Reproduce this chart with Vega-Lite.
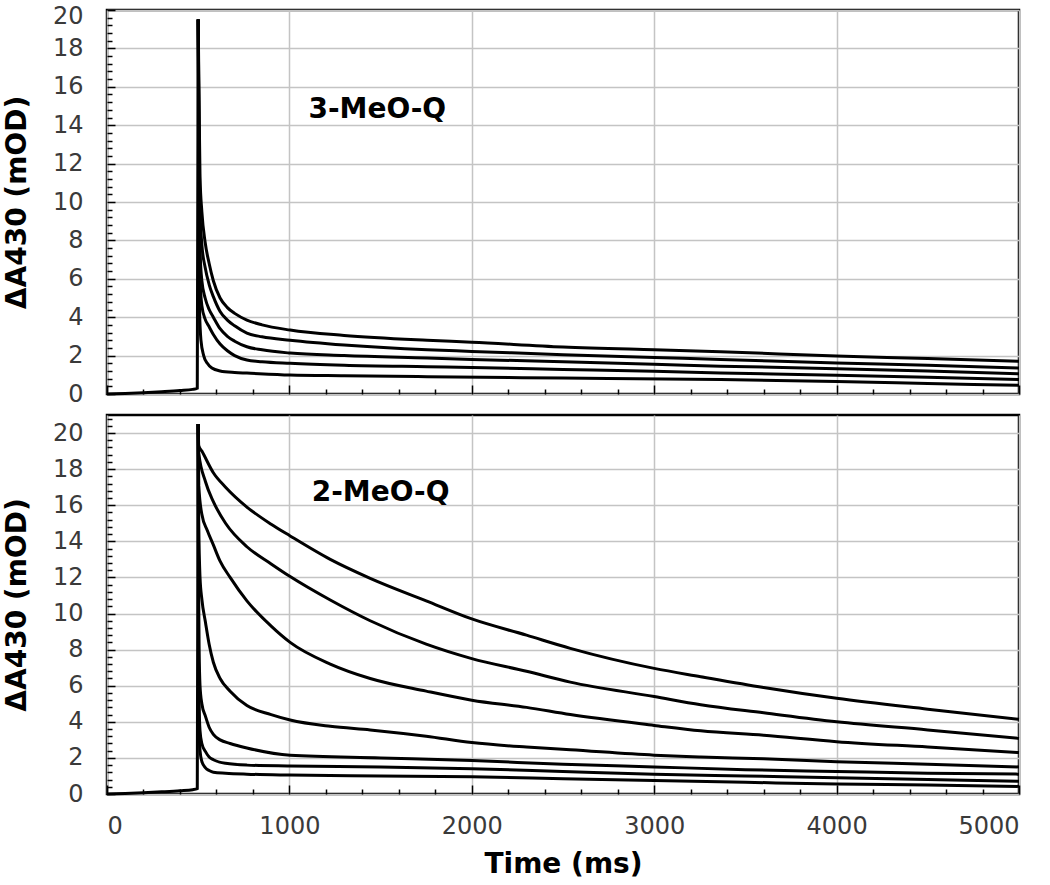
{
  "$schema": "https://vega.github.io/schema/vega-lite/v6.json",
  "background": "white",
  "padding": {"left": 2, "top": 2, "right": 0, "bottom": 0},
  "config": {
    "view": {"stroke": "black", "strokeWidth": 2.5},
    "font": "DejaVu Sans",
    "axis": {
      "labelFont": "DejaVu Sans", "labelFontSize": 24, "labelColor": "#3a3a3a",
      "titleFont": "DejaVu Sans", "titleFontSize": 28, "titleFontWeight": "bold", "titleColor": "black",
      "gridColor": "#c4c4c4", "gridWidth": 1.5, "gridOpacity": 1, "domain": false
    }
  },
  "datasets": {
    "top": [
      {"c":"pre","t":0,"v":0},{"c":"pre","t":100,"v":0.03},{"c":"pre","t":200,"v":0.07},{"c":"pre","t":300,"v":0.12},{"c":"pre","t":400,"v":0.18},{"c":"pre","t":470,"v":0.24},{"c":"pre","t":495,"v":0.3},{"c":"pre","t":500,"v":19.5},
      {"c":"A","t":500,"v":19.5},{"c":"A","t":505,"v":15},{"c":"A","t":510,"v":11.3},{"c":"A","t":520,"v":9.5},{"c":"A","t":538,"v":7.9},{"c":"A","t":560,"v":6.8},{"c":"A","t":583,"v":5.9},{"c":"A","t":620,"v":5.0},{"c":"A","t":660,"v":4.5},{"c":"A","t":700,"v":4.2},{"c":"A","t":767,"v":3.85},{"c":"A","t":850,"v":3.6},{"c":"A","t":1004,"v":3.33},{"c":"A","t":1300,"v":3.05},{"c":"A","t":1755,"v":2.8},{"c":"A","t":2000,"v":2.7},{"c":"A","t":2500,"v":2.45},{"c":"A","t":3000,"v":2.3},{"c":"A","t":3364,"v":2.2},{"c":"A","t":4000,"v":1.98},{"c":"A","t":4500,"v":1.85},{"c":"A","t":5000,"v":1.7},
      {"c":"B","t":500,"v":19.5},{"c":"B","t":505,"v":13},{"c":"B","t":510,"v":9.5},{"c":"B","t":520,"v":7.8},{"c":"B","t":538,"v":6.6},{"c":"B","t":560,"v":5.7},{"c":"B","t":583,"v":5.07},{"c":"B","t":620,"v":4.3},{"c":"B","t":660,"v":3.85},{"c":"B","t":700,"v":3.55},{"c":"B","t":767,"v":3.17},{"c":"B","t":850,"v":2.98},{"c":"B","t":1004,"v":2.8},{"c":"B","t":1300,"v":2.55},{"c":"B","t":1755,"v":2.3},{"c":"B","t":2000,"v":2.22},{"c":"B","t":2500,"v":2.05},{"c":"B","t":3000,"v":1.9},{"c":"B","t":3364,"v":1.8},{"c":"B","t":4000,"v":1.62},{"c":"B","t":4500,"v":1.5},{"c":"B","t":5000,"v":1.35},
      {"c":"C","t":500,"v":19.5},{"c":"C","t":505,"v":11},{"c":"C","t":510,"v":7.5},{"c":"C","t":520,"v":5.9},{"c":"C","t":538,"v":5.0},{"c":"C","t":560,"v":4.4},{"c":"C","t":583,"v":4.0},{"c":"C","t":620,"v":3.4},{"c":"C","t":660,"v":3.0},{"c":"C","t":700,"v":2.75},{"c":"C","t":767,"v":2.46},{"c":"C","t":850,"v":2.3},{"c":"C","t":1004,"v":2.13},{"c":"C","t":1300,"v":2.0},{"c":"C","t":1755,"v":1.87},{"c":"C","t":2000,"v":1.8},{"c":"C","t":2500,"v":1.68},{"c":"C","t":3000,"v":1.55},{"c":"C","t":3364,"v":1.45},{"c":"C","t":4000,"v":1.32},{"c":"C","t":4500,"v":1.2},{"c":"C","t":5000,"v":1.05},
      {"c":"D","t":500,"v":19.5},{"c":"D","t":505,"v":10},{"c":"D","t":510,"v":6},{"c":"D","t":520,"v":4.6},{"c":"D","t":538,"v":3.9},{"c":"D","t":560,"v":3.5},{"c":"D","t":583,"v":3.1},{"c":"D","t":620,"v":2.6},{"c":"D","t":660,"v":2.25},{"c":"D","t":700,"v":2.0},{"c":"D","t":767,"v":1.77},{"c":"D","t":850,"v":1.68},{"c":"D","t":1004,"v":1.6},{"c":"D","t":1300,"v":1.5},{"c":"D","t":1755,"v":1.42},{"c":"D","t":2000,"v":1.38},{"c":"D","t":2500,"v":1.28},{"c":"D","t":3000,"v":1.18},{"c":"D","t":3364,"v":1.1},{"c":"D","t":4000,"v":0.98},{"c":"D","t":4500,"v":0.87},{"c":"D","t":5000,"v":0.75},
      {"c":"E","t":500,"v":19.5},{"c":"E","t":503,"v":8},{"c":"E","t":507,"v":4.5},{"c":"E","t":515,"v":2.8},{"c":"E","t":530,"v":2.0},{"c":"E","t":550,"v":1.6},{"c":"E","t":575,"v":1.35},{"c":"E","t":620,"v":1.2},{"c":"E","t":700,"v":1.12},{"c":"E","t":767,"v":1.09},{"c":"E","t":1004,"v":0.99},{"c":"E","t":1300,"v":0.95},{"c":"E","t":1755,"v":0.9},{"c":"E","t":2500,"v":0.83},{"c":"E","t":3364,"v":0.75},{"c":"E","t":4000,"v":0.65},{"c":"E","t":4500,"v":0.55},{"c":"E","t":5000,"v":0.45}
    ],
    "bottom": [
      {"c":"pre","t":0,"v":0},{"c":"pre","t":100,"v":0.03},{"c":"pre","t":200,"v":0.07},{"c":"pre","t":300,"v":0.12},{"c":"pre","t":400,"v":0.18},{"c":"pre","t":470,"v":0.24},{"c":"pre","t":495,"v":0.3},{"c":"pre","t":500,"v":20.5},
      {"c":"c1","t":500,"v":20.5},{"c":"c1","t":503,"v":19.3},{"c":"c1","t":520,"v":19.0},{"c":"c1","t":583,"v":17.8},{"c":"c1","t":650,"v":17.0},{"c":"c1","t":767,"v":15.9},{"c":"c1","t":900,"v":14.95},{"c":"c1","t":1004,"v":14.3},{"c":"c1","t":1224,"v":13.0},{"c":"c1","t":1443,"v":11.95},{"c":"c1","t":1750,"v":10.7},{"c":"c1","t":2000,"v":9.7},{"c":"c1","t":2300,"v":8.8},{"c":"c1","t":2540,"v":8.07},{"c":"c1","t":3000,"v":6.96},{"c":"c1","t":3255,"v":6.5},{"c":"c1","t":3600,"v":5.9},{"c":"c1","t":4000,"v":5.3},{"c":"c1","t":4500,"v":4.7},{"c":"c1","t":5000,"v":4.14},
      {"c":"c2","t":500,"v":20.5},{"c":"c2","t":503,"v":18.9},{"c":"c2","t":540,"v":17.3},{"c":"c2","t":583,"v":16.2},{"c":"c2","t":650,"v":15.0},{"c":"c2","t":767,"v":13.7},{"c":"c2","t":900,"v":12.75},{"c":"c2","t":1004,"v":12.05},{"c":"c2","t":1224,"v":10.75},{"c":"c2","t":1443,"v":9.6},{"c":"c2","t":1750,"v":8.3},{"c":"c2","t":2000,"v":7.5},{"c":"c2","t":2300,"v":6.8},{"c":"c2","t":2540,"v":6.2},{"c":"c2","t":3000,"v":5.4},{"c":"c2","t":3255,"v":4.95},{"c":"c2","t":3600,"v":4.5},{"c":"c2","t":4000,"v":4.0},{"c":"c2","t":4500,"v":3.55},{"c":"c2","t":5000,"v":3.08},
      {"c":"c3","t":500,"v":20.5},{"c":"c3","t":503,"v":17.1},{"c":"c3","t":520,"v":15.5},{"c":"c3","t":550,"v":14.6},{"c":"c3","t":583,"v":13.8},{"c":"c3","t":620,"v":12.9},{"c":"c3","t":675,"v":12.0},{"c":"c3","t":767,"v":10.7},{"c":"c3","t":900,"v":9.3},{"c":"c3","t":1004,"v":8.4},{"c":"c3","t":1224,"v":7.2},{"c":"c3","t":1443,"v":6.4},{"c":"c3","t":1750,"v":5.7},{"c":"c3","t":2000,"v":5.2},{"c":"c3","t":2300,"v":4.8},{"c":"c3","t":2540,"v":4.4},{"c":"c3","t":3000,"v":3.8},{"c":"c3","t":3255,"v":3.5},{"c":"c3","t":3600,"v":3.25},{"c":"c3","t":4000,"v":2.9},{"c":"c3","t":4500,"v":2.6},{"c":"c3","t":5000,"v":2.3},
      {"c":"c4","t":500,"v":20.5},{"c":"c4","t":503,"v":15},{"c":"c4","t":510,"v":12},{"c":"c4","t":520,"v":10.8},{"c":"c4","t":540,"v":9.5},{"c":"c4","t":560,"v":8.3},{"c":"c4","t":583,"v":7.3},{"c":"c4","t":620,"v":6.4},{"c":"c4","t":675,"v":5.7},{"c":"c4","t":767,"v":4.9},{"c":"c4","t":900,"v":4.4},{"c":"c4","t":1004,"v":4.1},{"c":"c4","t":1224,"v":3.75},{"c":"c4","t":1443,"v":3.55},{"c":"c4","t":1750,"v":3.2},{"c":"c4","t":2000,"v":2.85},{"c":"c4","t":2300,"v":2.6},{"c":"c4","t":2540,"v":2.45},{"c":"c4","t":3000,"v":2.15},{"c":"c4","t":3255,"v":2.05},{"c":"c4","t":3600,"v":1.95},{"c":"c4","t":4000,"v":1.79},{"c":"c4","t":4500,"v":1.65},{"c":"c4","t":5000,"v":1.5},
      {"c":"c5","t":500,"v":20.5},{"c":"c5","t":502,"v":12},{"c":"c5","t":505,"v":8},{"c":"c5","t":510,"v":6},{"c":"c5","t":520,"v":5},{"c":"c5","t":540,"v":4.3},{"c":"c5","t":560,"v":3.7},{"c":"c5","t":583,"v":3.3},{"c":"c5","t":620,"v":3.0},{"c":"c5","t":675,"v":2.8},{"c":"c5","t":767,"v":2.55},{"c":"c5","t":1004,"v":2.15},{"c":"c5","t":1500,"v":2.0},{"c":"c5","t":2000,"v":1.85},{"c":"c5","t":2500,"v":1.65},{"c":"c5","t":3000,"v":1.5},{"c":"c5","t":3500,"v":1.35},{"c":"c5","t":4000,"v":1.25},{"c":"c5","t":4500,"v":1.15},{"c":"c5","t":5000,"v":1.1},
      {"c":"c6","t":500,"v":20.5},{"c":"c6","t":502,"v":8},{"c":"c6","t":505,"v":5},{"c":"c6","t":510,"v":3.5},{"c":"c6","t":520,"v":2.8},{"c":"c6","t":540,"v":2.35},{"c":"c6","t":560,"v":2.05},{"c":"c6","t":583,"v":1.9},{"c":"c6","t":650,"v":1.7},{"c":"c6","t":767,"v":1.6},{"c":"c6","t":1000,"v":1.55},{"c":"c6","t":1500,"v":1.5},{"c":"c6","t":2000,"v":1.4},{"c":"c6","t":2500,"v":1.25},{"c":"c6","t":3000,"v":1.1},{"c":"c6","t":3500,"v":1.0},{"c":"c6","t":4000,"v":0.9},{"c":"c6","t":4500,"v":0.8},{"c":"c6","t":5000,"v":0.7},
      {"c":"c7","t":500,"v":20.5},{"c":"c7","t":502,"v":6},{"c":"c7","t":505,"v":3.5},{"c":"c7","t":510,"v":2.4},{"c":"c7","t":520,"v":1.8},{"c":"c7","t":540,"v":1.45},{"c":"c7","t":560,"v":1.3},{"c":"c7","t":583,"v":1.2},{"c":"c7","t":650,"v":1.15},{"c":"c7","t":767,"v":1.1},{"c":"c7","t":1000,"v":1.05},{"c":"c7","t":1500,"v":1.0},{"c":"c7","t":2000,"v":0.95},{"c":"c7","t":2500,"v":0.85},{"c":"c7","t":3000,"v":0.75},{"c":"c7","t":3500,"v":0.65},{"c":"c7","t":4000,"v":0.55},{"c":"c7","t":4500,"v":0.5},{"c":"c7","t":5000,"v":0.42}
    ]
  },
  "vconcat": [
    {
      "width": 912, "height": 384,
      "data": {"name": "top"},
      "resolve": {"axis": {"x": "independent", "y": "independent"}},
      "layer": [
        {
          "mark": {"type": "line", "color": "black", "strokeWidth": 3, "interpolate": "monotone"},
          "encoding": {
            "x": {"field": "t", "type": "quantitative", "scale": {"domain": [0, 5000], "nice": false},
                  "axis": {"values": [0,1000,2000,3000,4000,5000], "labels": false, "ticks": false, "title": null, "grid": true, "orient": "bottom"}},
            "y": {"field": "v", "type": "quantitative", "scale": {"domain": [0, 20], "nice": false},
                  "axis": {"values": [0,2,4,6,8,10,12,14,16,18,20], "ticks": false, "labelPadding": 24, "title": "ΔA430 (mOD)", "titlePadding": 21, "grid": true, "orient": "left",
                           "labelBaseline": {"condition": {"test": "datum.value === 20", "value": "top"}, "value": "middle"},
                           "labelOffset": {"condition": {"test": "datum.value === 20", "value": -6}, "value": 0}}},
            "detail": {"field": "c"}
          }
        },
        {
          "mark": {"type": "line", "opacity": 0},
          "encoding": {
            "x": {"field": "t", "type": "quantitative",
                  "axis": {"orient": "bottom", "values": [0,200,400,600,800,1000,1200,1400,1600,1800,2000,2200,2400,2600,2800,3000,3200,3400,3600,3800,4000,4200,4400,4600,4800,5000],
                           "labels": false, "grid": false, "title": null, "tickColor": "black", "tickWidth": 1.5,
                           "tickSize": {"condition": {"test": "datum.value % 1000 === 0", "value": -9}, "value": -5}}},
            "y": {"field": "v", "type": "quantitative",
                  "axis": {"orient": "left", "values": [0,0.4,0.8,1.2,1.6,2,2.4,2.8,3.2,3.6,4,4.4,4.8,5.2,5.6,6,6.4,6.8,7.2,7.6,8,8.4,8.8,9.2,9.6,10,10.4,10.8,11.2,11.6,12,12.4,12.8,13.2,13.6,14,14.4,14.8,15.2,15.6,16,16.4,16.8,17.2,17.6,18,18.4,18.8,19.2,19.6,20],
                           "labels": false, "grid": false, "title": null, "tickColor": "black", "tickWidth": 1.5,
                           "tickSize": {"condition": {"test": "datum.value % 2 === 0", "value": -8}, "value": -5}}},
            "detail": {"field": "c"}
          }
        },
        {
          "data": {"values": [{"label": "3-MeO-Q", "t": 1482, "v": 14.8}]},
          "mark": {"type": "text", "fontSize": 28, "fontWeight": "bold", "font": "DejaVu Sans", "color": "black", "align": "center", "baseline": "middle"},
          "encoding": {
            "x": {"field": "t", "type": "quantitative", "axis": null},
            "y": {"field": "v", "type": "quantitative", "axis": null},
            "text": {"field": "label"}
          }
        }
      ]
    },
    {
      "width": 912, "height": 379,
      "data": {"name": "bottom"},
      "resolve": {"axis": {"x": "independent", "y": "independent"}},
      "layer": [
        {
          "mark": {"type": "line", "color": "black", "strokeWidth": 3, "interpolate": "monotone"},
          "encoding": {
            "x": {"field": "t", "type": "quantitative", "scale": {"domain": [0, 5000], "nice": false},
                  "axis": {"values": [0,1000,2000,3000,4000,5000], "format": "d", "ticks": false, "labelPadding": 20, "title": "Time (ms)", "titlePadding": 12, "grid": true, "orient": "bottom"}},
            "y": {"field": "v", "type": "quantitative", "scale": {"domain": [0, 21], "nice": false},
                  "axis": {"values": [0,2,4,6,8,10,12,14,16,18,20], "ticks": false, "labelPadding": 24, "title": "ΔA430 (mOD)", "titlePadding": 21, "grid": true, "orient": "left"}},
            "detail": {"field": "c"}
          }
        },
        {
          "mark": {"type": "line", "opacity": 0},
          "encoding": {
            "x": {"field": "t", "type": "quantitative",
                  "axis": {"orient": "bottom", "values": [0,200,400,600,800,1000,1200,1400,1600,1800,2000,2200,2400,2600,2800,3000,3200,3400,3600,3800,4000,4200,4400,4600,4800,5000],
                           "labels": false, "grid": false, "title": null, "tickColor": "black", "tickWidth": 1.5,
                           "tickSize": {"condition": {"test": "datum.value % 1000 === 0", "value": -9}, "value": -5}}},
            "y": {"field": "v", "type": "quantitative",
                  "axis": {"orient": "left", "values": [0,0.4,0.8,1.2,1.6,2,2.4,2.8,3.2,3.6,4,4.4,4.8,5.2,5.6,6,6.4,6.8,7.2,7.6,8,8.4,8.8,9.2,9.6,10,10.4,10.8,11.2,11.6,12,12.4,12.8,13.2,13.6,14,14.4,14.8,15.2,15.6,16,16.4,16.8,17.2,17.6,18,18.4,18.8,19.2,19.6,20,20.4,20.8],
                           "labels": false, "grid": false, "title": null, "tickColor": "black", "tickWidth": 1.5,
                           "tickSize": {"condition": {"test": "datum.value % 2 === 0", "value": -8}, "value": -5}}},
            "detail": {"field": "c"}
          }
        },
        {
          "data": {"values": [{"label": "2-MeO-Q", "t": 1500, "v": 16.7}]},
          "mark": {"type": "text", "fontSize": 28, "fontWeight": "bold", "font": "DejaVu Sans", "color": "black", "align": "center", "baseline": "middle"},
          "encoding": {
            "x": {"field": "t", "type": "quantitative", "axis": null},
            "y": {"field": "v", "type": "quantitative", "axis": null},
            "text": {"field": "label"}
          }
        }
      ]
    }
  ],
  "spacing": 21,
  "bounds": "flush"
}
